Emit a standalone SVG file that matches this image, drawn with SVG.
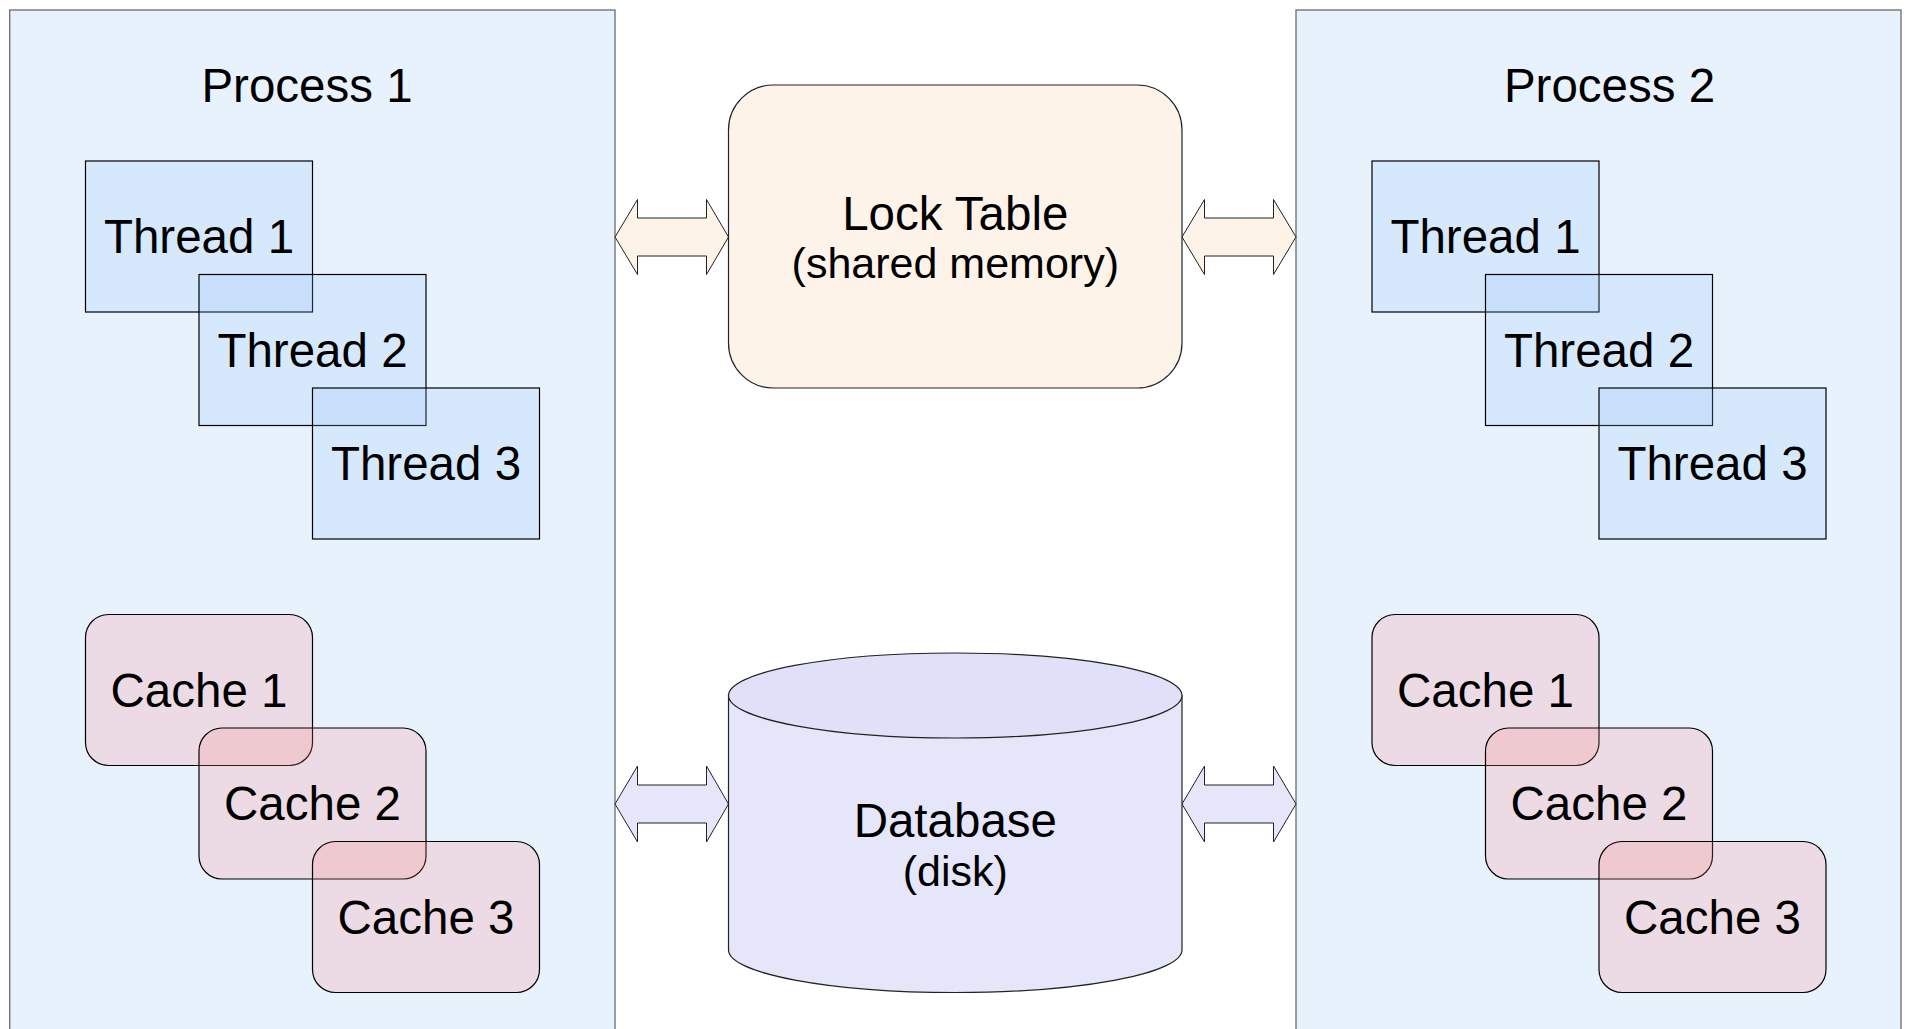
<svg xmlns="http://www.w3.org/2000/svg" width="1907" height="1029" viewBox="0 0 1907 1029">
<style>
text { font-family: "Liberation Sans", Arial, sans-serif; fill: #000; text-anchor: middle; }
.lbl { font-size: 47.5px; }
.sub { font-size: 43px; }
.proc { fill: #E8F2FD; stroke: #6b6b6b; stroke-width: 1.3; }
.thread { fill: #93C5F8; fill-opacity: 0.2; stroke: #000; stroke-width: 1.2; }
.cache { fill: #FF8480; fill-opacity: 0.2; stroke: #000; stroke-width: 1.2; }
.lock { fill: #FDF3E9; stroke: #222; stroke-width: 1.2; }
.db { fill: #E6E6FA; stroke: #222; stroke-width: 1.2; }
.dbtop { fill: #E0E0F9; stroke: #222; stroke-width: 1.2; }
.arr { stroke: #222; stroke-width: 1; stroke-linejoin: miter; }
.arr-lock { fill: #FDF3E9; }
.arr-db { fill: #E6E6FA; }
</style>
<rect width="1907" height="1029" fill="#ffffff"/>

<g id="process1">
  <rect class="proc" x="9.7" y="10" width="605.3" height="1030"/>
  <text class="lbl" x="307" y="101.5">Process 1</text>
</g>
<g id="process2">
  <rect class="proc" x="1296" y="10" width="605" height="1030"/>
  <text class="lbl" x="1609.5" y="101.5">Process 2</text>
</g>

<g id="connectors">
  <path class="arr arr-lock" d="M615,237 L637.5,199.5 L637.5,218 L706.5,218 L706.5,199.5 L728.5,237 L706.5,274.5 L706.5,256 L637.5,256 L637.5,274.5 Z"/>
  <path class="arr arr-lock" d="M1182,237 L1204.5,199.5 L1204.5,218 L1273.5,218 L1273.5,199.5 L1296,237 L1273.5,274.5 L1273.5,256 L1204.5,256 L1204.5,274.5 Z"/>
  <path class="arr arr-db" d="M615,804 L637.5,766 L637.5,785 L706.5,785 L706.5,766 L728.5,804 L706.5,842 L706.5,823 L637.5,823 L637.5,842 Z"/>
  <path class="arr arr-db" d="M1182,804 L1204.5,766 L1204.5,785 L1273.5,785 L1273.5,766 L1296,804 L1273.5,842 L1273.5,823 L1204.5,823 L1204.5,842 Z"/>
</g>

<g id="p1-thread1"><rect class="thread" x="85.5" y="161" width="227" height="151"/><text class="lbl" x="199" y="252.5">Thread 1</text></g>
<g id="p1-thread2"><rect class="thread" x="199" y="274.5" width="227" height="151"/><text class="lbl" x="312.5" y="366.5">Thread 2</text></g>
<g id="p1-thread3"><rect class="thread" x="312.5" y="388" width="227" height="151"/><text class="lbl" x="426" y="479.5">Thread 3</text></g>

<g id="p1-cache1"><rect class="cache" x="85.5" y="614.5" width="227" height="151" rx="23" ry="23"/><text class="lbl" x="199" y="706.5">Cache 1</text></g>
<g id="p1-cache2"><rect class="cache" x="199" y="728" width="227" height="151" rx="23" ry="23"/><text class="lbl" x="312.5" y="820">Cache 2</text></g>
<g id="p1-cache3"><rect class="cache" x="312.5" y="841.5" width="227" height="151" rx="23" ry="23"/><text class="lbl" x="426" y="933.5">Cache 3</text></g>

<g id="p2-thread1"><rect class="thread" x="1372" y="161" width="227" height="151"/><text class="lbl" x="1485.5" y="252.5">Thread 1</text></g>
<g id="p2-thread2"><rect class="thread" x="1485.5" y="274.5" width="227" height="151"/><text class="lbl" x="1599" y="366.5">Thread 2</text></g>
<g id="p2-thread3"><rect class="thread" x="1599" y="388" width="227" height="151"/><text class="lbl" x="1712.5" y="479.5">Thread 3</text></g>

<g id="p2-cache1"><rect class="cache" x="1372" y="614.5" width="227" height="151" rx="23" ry="23"/><text class="lbl" x="1485.5" y="706.5">Cache 1</text></g>
<g id="p2-cache2"><rect class="cache" x="1485.5" y="728" width="227" height="151" rx="23" ry="23"/><text class="lbl" x="1599" y="820">Cache 2</text></g>
<g id="p2-cache3"><rect class="cache" x="1599" y="841.5" width="227" height="151" rx="23" ry="23"/><text class="lbl" x="1712.5" y="933.5">Cache 3</text></g>

<g id="lock-table">
  <rect class="lock" x="728.5" y="85" width="453.5" height="303" rx="45" ry="45"/>
  <text class="lbl" x="955.3" y="229.5">Lock Table</text>
  <text class="sub" x="955.3" y="277.5">(shared memory)</text>
</g>

<g id="database">
  <path class="db" d="M728.5,695.5 L728.5,950 A226.75,42.5 0 0 0 1182,950 L1182,695.5 Z"/>
  <ellipse class="dbtop" cx="955.25" cy="695.5" rx="226.75" ry="42.5"/>
  <text class="lbl" x="955.3" y="836.5">Database</text>
  <text class="sub" x="955.3" y="885.5">(disk)</text>
</g>
</svg>
